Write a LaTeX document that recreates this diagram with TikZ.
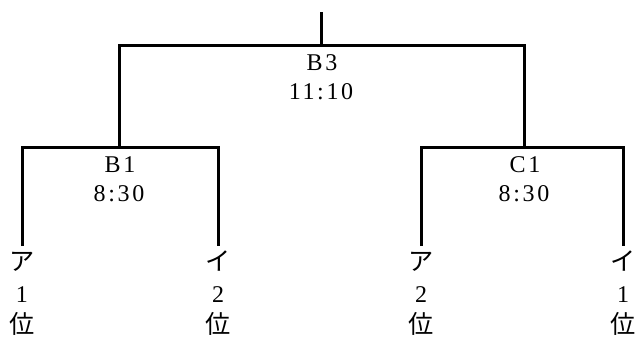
\documentclass[tikz,border=0pt]{standalone}
\usepackage{fontspec}
\setmainfont{Liberation Serif}[LetterSpace=11]
\newfontfamily\cjk{Noto Sans CJK JP}[Scale=1.05]
\begin{document}
\begin{tikzpicture}[x=1pt,y=-1pt,
  wire/.style={line width=3pt,line cap=butt},
  lbl/.style={font=\fontsize{24}{29}\selectfont,inner sep=0pt,anchor=base}]
\useasboundingbox (0,0) rectangle (639,338);
\coordinate (top) at (321,12);
\coordinate (m3) at (321,45);
\coordinate (b3l) at (119,45);
\coordinate (b3r) at (524,45);
\coordinate (b1) at (119,147);
\coordinate (c1) at (524,147);
\coordinate (b1l) at (22,147);
\coordinate (b1r) at (218,147);
\coordinate (c1l) at (421,147);
\coordinate (c1r) at (623,147);
\coordinate (l1) at (22,246);
\coordinate (l2) at (218,246);
\coordinate (l3) at (421,246);
\coordinate (l4) at (623,246);
\draw[wire] (top) -- (m3);
\draw[wire] (b1) -- (b3l) -- (b3r) -- (c1);
\draw[wire] (l1) -- (b1l) -- (b1r) -- (l2);
\draw[wire] (l3) -- (c1l) -- (c1r) -- (l4);
\node[lbl] (n3a) at (322,70) {B3};
\node[lbl] (n3b) at (321,99) {11:10};
\node[lbl] (n1a) at (120,172) {B1};
\node[lbl] (n1b) at (119,201) {8:30};
\node[lbl] (n2a) at (525,172) {C1};
\node[lbl] (n2b) at (524,201) {8:30};
\foreach \x/\k/\r/\n in {22/ア/1/a1, 218/イ/2/a2, 421/ア/2/a3, 623/イ/1/a4}{
  \node[lbl] (\n k) at (\x,270) {\cjk \k};
  \node[lbl] (\n r) at (\x,302) {\r};
  \node[lbl] (\n p) at (\x,333) {\cjk 位};
}
\end{tikzpicture}
\end{document}
